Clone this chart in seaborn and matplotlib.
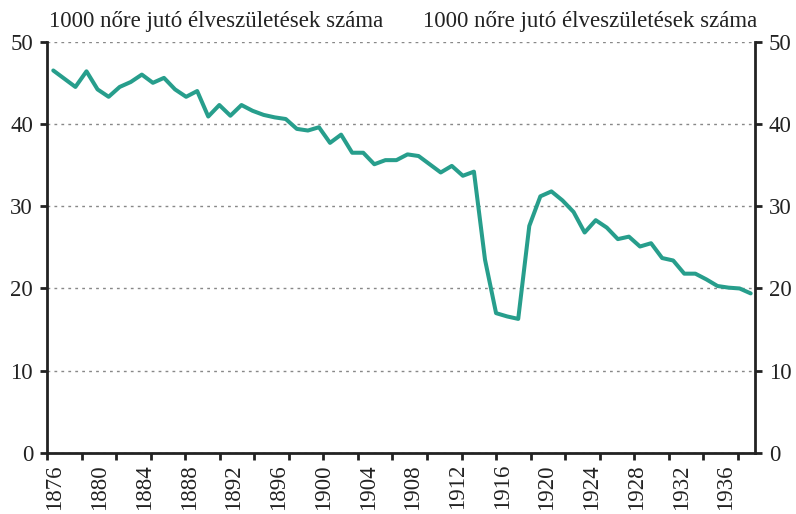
import numpy as np
import pandas as pd
import matplotlib
matplotlib.use("Agg")
import matplotlib.pyplot as plt
import seaborn as sns

# adatok: élveszületések 1000 nőre
years = list(range(1876, 1940))
births = [46.5, 45.5, 44.5, 46.4, 44.2, 43.3, 44.5, 45.1, 46.0, 45.0,
          45.6, 44.2, 43.3, 44.0, 40.9, 42.3, 41.0, 42.3, 41.6, 41.1,
          40.8, 40.6, 39.4, 39.2, 39.6, 37.7, 38.7, 36.5, 36.5, 35.1,
          35.6, 35.6, 36.3, 36.1, 35.1, 34.1, 34.9, 33.7, 34.2, 23.5,
          17.0, 16.6, 16.3, 27.6, 31.2, 31.8, 30.7, 29.3, 26.8, 28.3,
          27.4, 26.0, 26.3, 25.1, 25.5, 23.7, 23.4, 21.8, 21.8, 21.1,
          20.3, 20.1, 20.0, 19.4]
year_labels = list(range(1876, 1940, 4))
y_ticks = [0, 10, 20, 30, 40, 50]
title = "1000 nőre jutó élveszületések száma"

df = pd.DataFrame({"ev": years, "szuletes": births})

sns.set_style("white")
plt.rcParams["font.family"] = ["Liberation Serif", "DejaVu Serif"]
fs = 16.5

fig = plt.figure(figsize=(7.96, 5.14), dpi=100)
ax = fig.add_axes([0.059, 0.1187, 0.8895, 0.8002])

sns.lineplot(data=df, x="ev", y="szuletes", ax=ax, color="#279e8c",
             linewidth=2.9, zorder=3)

ax.set_xlim(1875.43, 1939.39)
ax.set_ylim(0, 50)
ax.set_yticks(y_ticks)
ax.set_yticklabels([str(v) for v in y_ticks])
ax.yaxis.grid(True, linestyle=(0, (2, 3)), color="#888888", linewidth=1)
ax.set_axisbelow(True)

# kis jelölők az x tengelyen
xmin, xmax = ax.get_xlim()
ax.set_xticks(np.linspace(xmin, xmin + 691 / 708 * (xmax - xmin), 21))
ax.set_xticklabels([])
ax.tick_params(axis="x", direction="out", length=5, width=2, color="#222222")
ax.tick_params(axis="y", direction="out", length=5, width=2, color="#222222",
               left=True, right=True, labelleft=True, labelright=True,
               pad=5, labelsize=fs, labelcolor="#222222")

for side in ["left", "right", "bottom"]:
    ax.spines[side].set_visible(True)
    ax.spines[side].set_color("#222222")
    ax.spines[side].set_linewidth(2)
ax.spines["top"].set_visible(False)
ax.set_xlabel("")
ax.set_ylabel("")

# évszám feliratok külön tengelyen
ax2 = ax.twiny()
ax2.set_xlim(1875.28, 1938.61)
ax2.xaxis.set_ticks_position("bottom")
ax2.set_xticks(year_labels)
ax2.set_xticklabels([str(y) for y in year_labels], rotation=90,
                    fontsize=fs, color="#222222")
ax2.tick_params(axis="x", length=0, pad=8)
for s in ax2.spines.values():
    s.set_visible(False)

fig.text(0.062, 0.938, title, fontsize=fs, ha="left", va="bottom",
         color="#222222")
fig.text(0.951, 0.938, title, fontsize=fs, ha="right", va="bottom",
         color="#222222")

plt.savefig("out.png", dpi=100)
